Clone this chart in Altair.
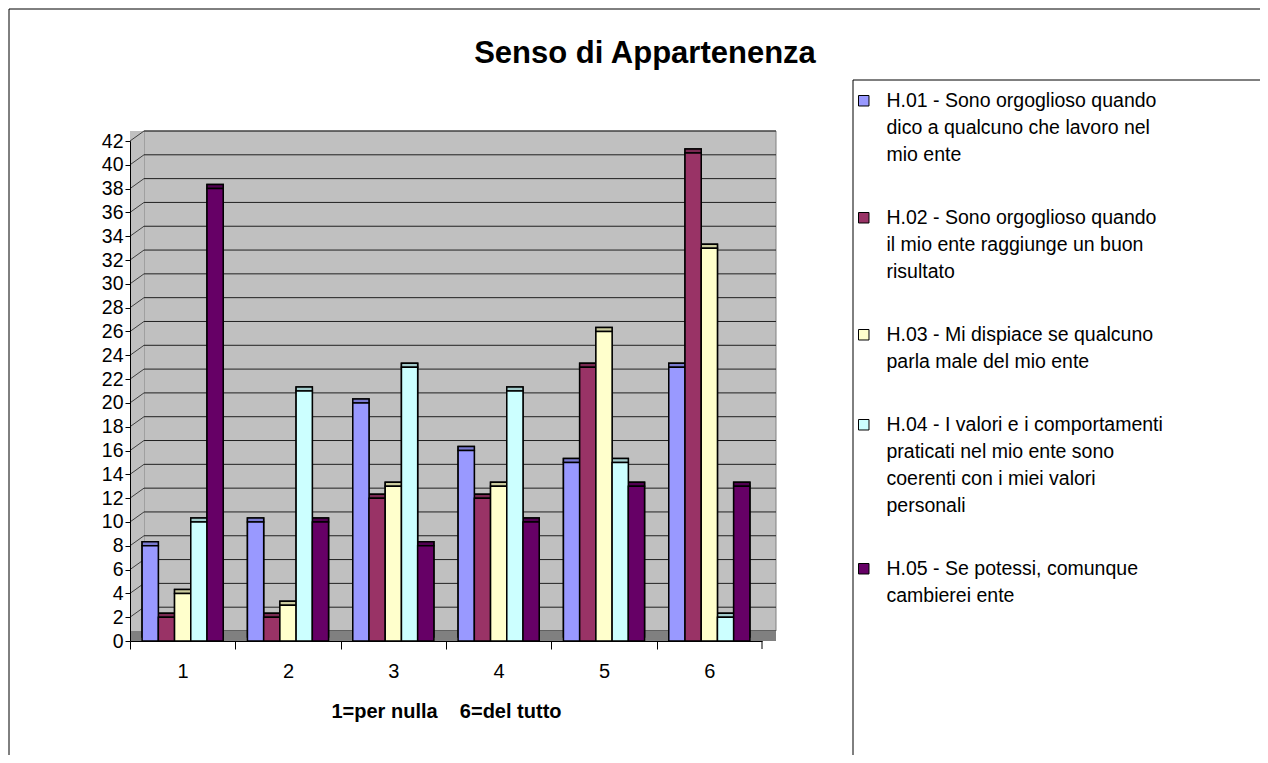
import altair as alt
import pandas as pd

# ---- data ----
title_text = ["Senso di Appartenenza"]
x_title = "1=per\u00a0nulla\u00a0\u00a0\u00a0\u00a06=del\u00a0tutto"
categories = ["1", "2", "3", "4", "5", "6"]
series = [
    "H.01 - Sono orgoglioso quando\ndico a qualcuno che lavoro nel\nmio ente",
    "H.02 - Sono orgoglioso quando\nil mio ente raggiunge un buon\nrisultato",
    "H.03 - Mi dispiace se qualcuno\nparla male del mio ente",
    "H.04 - I valori e i comportamenti\npraticati nel mio ente sono\ncoerenti con i miei valori\npersonali",
    "H.05 - Se potessi, comunque\ncambierei ente",
]
h01 = [8, 10, 20, 16, 15, 23]
h02 = [2, 2, 12, 12, 23, 41]
h03 = [4, 3, 13, 13, 26, 33]
h04 = [10, 21, 23, 21, 15, 2]
h05 = [38, 10, 8, 10, 13, 13]
y_ticks = list(range(0, 43, 2))

front_colors = ["#9999FF", "#993366", "#FFFFCC", "#CCFFFF", "#660066"]
top_colors = ["#7A7AD0", "#7A2952", "#CCCC9F", "#A3CCCC", "#520052"]
side_colors = ["#4D4D80", "#4D1A33", "#808066", "#5F7F7F", "#330033"]

values = [h01, h02, h03, h04, h05]
rows = []
for s, vals, tc, sc in zip(series, values, top_colors, side_colors):
    for c, v in zip(categories, vals):
        rows.append({"cat": c, "series": s, "value": v, "top": tc, "shade": sc})
df = pd.DataFrame(rows)
ticks_df = pd.DataFrame({"value": y_ticks})
one_df = pd.DataFrame({"value": [0], "t": title_text})

W, H = 632, 500
DX, DY = 14, -10
FONT = "Liberation Sans"
PAD_IN, PAD_OUT = 0.23, 0.115
STEP = W / (len(categories) - PAD_IN + 2 * PAD_OUT)

yscale = alt.Scale(domain=[0, 42], nice=False)
xscale = alt.Scale(domain=categories, paddingInner=PAD_IN, paddingOuter=PAD_OUT)

y_axis = alt.Axis(
    values=y_ticks, title=None, grid=False, zindex=1, labelOverlap=False,
    labelFont=FONT, labelFontSize=19.5, labelColor="black", labelPadding=2,
    tickSize=5, tickColor="black", domainColor="black",
)
x_axis = alt.Axis(
    title=x_title, zindex=1,
    titleFont=FONT, titleFontSize=20, titleFontWeight="bold", titleColor="black",
    titlePadding=20,
    labelFont=FONT, labelFontSize=20, labelColor="black", labelAngle=0, labelPadding=12,
    tickOffset=-STEP / 2, labelOffset=STEP / 2, tickSize=8, tickColor="black",
    domainColor="black", grid=False,
)

def Y():
    return alt.Y("value:Q", scale=yscale, axis=y_axis)

# outer frame and legend box (decoration)
frame = alt.Chart(one_df).mark_rect(fill="transparent", stroke="black", strokeWidth=1).encode(
    x=alt.value(-121), x2=alt.value(1300), y=alt.value(-132), y2=alt.value(800)
)

legend_box = alt.Chart(one_df).mark_rect(fill="white", stroke="black", strokeWidth=1).encode(
    x=alt.value(723), x2=alt.value(1300), y=alt.value(-61), y2=alt.value(800)
)

title = alt.Chart(one_df).mark_text(
    font=FONT, fontSize=31, fontWeight="bold", color="black", align="center", baseline="alphabetic"
).encode(text="t:N", x=alt.value(515), y=alt.value(-78))

wall = alt.Chart(one_df).mark_rect(
    fill="#C0C0C0", stroke="#808080", strokeWidth=1,
    xOffset=DX, x2Offset=DX, yOffset=DY, y2Offset=DY
).encode(
    x=alt.value(0), x2=alt.value(W), y=Y(), y2=alt.datum(42),
)

side = alt.Chart(one_df).mark_rect(fill="#C0C0C0", y2Offset=DY).encode(
    x=alt.value(0), x2=alt.value(DX), y=Y(), y2=alt.datum(42),
)

grid = alt.Chart(ticks_df).mark_rule(
    color="#202020", strokeWidth=1, xOffset=DX, x2Offset=DX, yOffset=DY
).encode(y=Y(), x=alt.value(0), x2=alt.value(W))

diag = alt.Chart(ticks_df).mark_rule(color="#404040", strokeWidth=1, y2Offset=DY).encode(
    y=Y(), y2=alt.Y2("value:Q"), x=alt.value(0), x2=alt.value(DX)
)

floor = alt.Chart(one_df).mark_rect(fill="#808080", y2Offset=DY).encode(
    x=alt.value(0), x2=alt.value(W + DX), y=Y(), y2=alt.Y2("value:Q"),
)

last_tick = alt.Chart(one_df).mark_rule(color="black", strokeWidth=1).encode(
    x=alt.value(W), y=alt.value(H), y2=alt.value(H + 8)
)

x_enc = alt.X("cat:N", scale=xscale, sort=categories, axis=x_axis)
xoff = alt.XOffset("series:N", sort=series, scale=alt.Scale(paddingInner=0, paddingOuter=0))

shadow = alt.Chart(df).mark_bar(
    xOffset=5, x2Offset=5, yOffset=-4, y2Offset=-4, stroke="black", strokeWidth=1.5
).encode(
    x=x_enc, y=Y(), xOffset=xoff,
    color=alt.Color("shade:N", scale=None),
)

tops = alt.Chart(df).mark_bar(
    xOffset=2.5, x2Offset=2.5, yOffset=-4, stroke="black", strokeWidth=1.5
).encode(
    x=x_enc, y=Y(), y2=alt.Y2("value:Q"), xOffset=xoff,
    color=alt.Color("top:N", scale=None),
)

bars = alt.Chart(df).mark_bar(stroke="black", strokeWidth=1.5).encode(
    x=x_enc, y=Y(), xOffset=xoff,
    color=alt.Color(
        "series:N", sort=series,
        scale=alt.Scale(domain=series, range=front_colors),
        legend=alt.Legend(
            title=None, orient="none", legendX=724, legendY=-50, padding=0,
            symbolType="square", symbolSize=110, symbolStrokeColor="black",
            symbolStrokeWidth=1, labelFont=FONT, labelFontSize=19.5, labelColor="black",
            labelLimit=500, labelOffset=13, rowPadding=42,
            labelExpr="split(datum.label, '\\n')",
        ),
    ),
)

chart = alt.layer(
    frame, legend_box, title, wall, side, grid, diag, floor, last_tick, shadow, tops, bars
).properties(
    width=W, height=H,
    autosize=alt.AutoSizeParams(type="none"),
    padding={"left": 122, "top": 133, "right": 498, "bottom": 114},
).configure(
    background="white",
    view={"stroke": "transparent"},
    style={"guide-label": {"lineHeight": 27}},
)

chart.save("out.html", embed_options={"renderer": "svg", "actions": False})
